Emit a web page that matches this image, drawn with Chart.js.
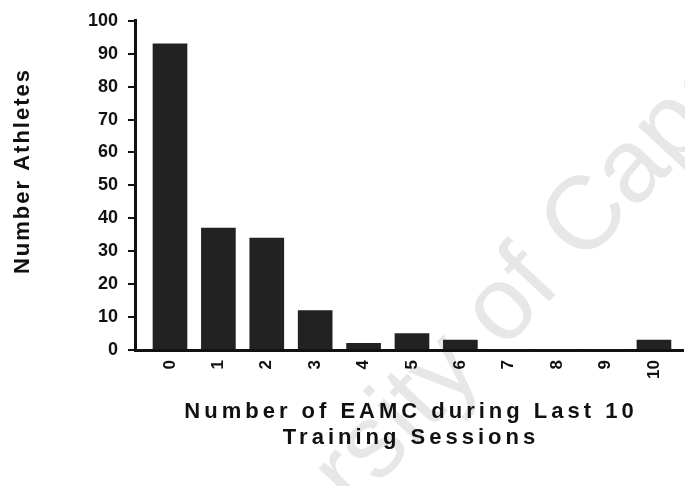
<!DOCTYPE html>
<html>
<head>
<meta charset="utf-8">
<script src="https://cdn.jsdelivr.net/npm/chart.js@4"></script>
<style>
  html, body { margin: 0; padding: 0; background: #fff; }
  .chart-wrapper { width: 685px; height: 486px; position: relative; }
</style>
</head>
<body>
<div class="chart-wrapper">
  <canvas id="chart-0"></canvas>
</div>
<script>
// values
const sessions = [0, 1, 2, 3, 4, 5, 6, 7, 8, 9, 10];
const athletes = [93, 37, 34, 12, 2, 5, 3, 0, 0, 0, 3];
const yTicks = [0, 10, 20, 30, 40, 50, 60, 70, 80, 90, 100];
const yTitle = "Number Athletes";
const xTitle = ["Number of EAMC during Last 10", "Training Sessions"];
const watermark = "University of Cape Town";

const FONT = "'Liberation Sans', Arial, sans-serif";

// faint diagonal watermark, drawn first so it sits behind everything
const watermarkPlugin = {
  id: "watermark",
  beforeDraw(chart) {
    const ctx = chart.ctx;
    ctx.save();
    ctx.translate(534, 276);
    ctx.rotate(-47 * Math.PI / 180);
    ctx.font = "104px " + FONT;
    ctx.fillStyle = "#e7e7e7";
    ctx.textAlign = "center";
    ctx.textBaseline = "middle";
    ctx.fillText(watermark, 0, 0);
    ctx.restore();
  }
};

// axis titles drawn by hand so the letter spacing can match
const titlesPlugin = {
  id: "titles",
  afterDraw(chart) {
    const ctx = chart.ctx;
    const area = chart.chartArea;
    const cx = (area.left + area.right) / 2;
    ctx.save();
    ctx.fillStyle = "#111";
    ctx.textAlign = "center";
    ctx.textBaseline = "middle";
    ctx.font = "bold 22px " + FONT;
    ctx.letterSpacing = "4px";
    ctx.fillText(xTitle[0], cx + 2, 412);
    ctx.fillText(xTitle[1], cx + 2, 438);
    ctx.translate(23, 171);
    ctx.rotate(-Math.PI / 2);
    ctx.letterSpacing = "2px";
    ctx.fillText(yTitle, 0, 0);
    ctx.restore();
  }
};

const data = {
  datasets: [{
    label: yTitle,
    data: sessions.map((s, i) => ({ x: s, y: athletes[i] })),
    backgroundColor: "#222",
    borderWidth: 0,
    barThickness: 34
  }]
};

new Chart(document.getElementById("chart-0"), {
  type: "bar",
  data: data,
  plugins: [watermarkPlugin, titlesPlugin],
  options: {
    responsive: true,
    maintainAspectRatio: false,
    animation: false,
    layout: { padding: { top: 18, right: 2, left: 0, bottom: 0 } },
    plugins: {
      legend: { display: false },
      tooltip: { enabled: false }
    },
    scales: {
      x: {
        type: "linear",
        offset: false,
        min: -0.723,
        max: 10.6,
        afterBuildTicks: (scale) => { scale.ticks = sessions.map(v => ({ value: v })); },
        afterFit: (scale) => { scale.height = 136; },
        grid: { display: false, drawTicks: false },
        border: { display: true, color: "#111", width: 3 },
        ticks: {
          minRotation: 90,
          maxRotation: 90,
          padding: 10,
          color: "#111",
          font: { family: FONT, size: 17, weight: "bold" },
          callback: (v) => String(v)
        }
      },
      y: {
        min: 0,
        max: 100,
        afterBuildTicks: (scale) => { scale.ticks = yTicks.map(v => ({ value: v })); },
        afterFit: (scale) => { scale.width = 135; },
        grid: {
          drawOnChartArea: false,
          drawTicks: true,
          tickLength: 7,
          color: "#111",
          lineWidth: 2
        },
        border: { display: true, color: "#111", width: 3 },
        ticks: {
          padding: 10,
          color: "#111",
          font: { family: FONT, size: 18, weight: "bold" }
        }
      }
    }
  }
});
</script>
</body>
</html>
